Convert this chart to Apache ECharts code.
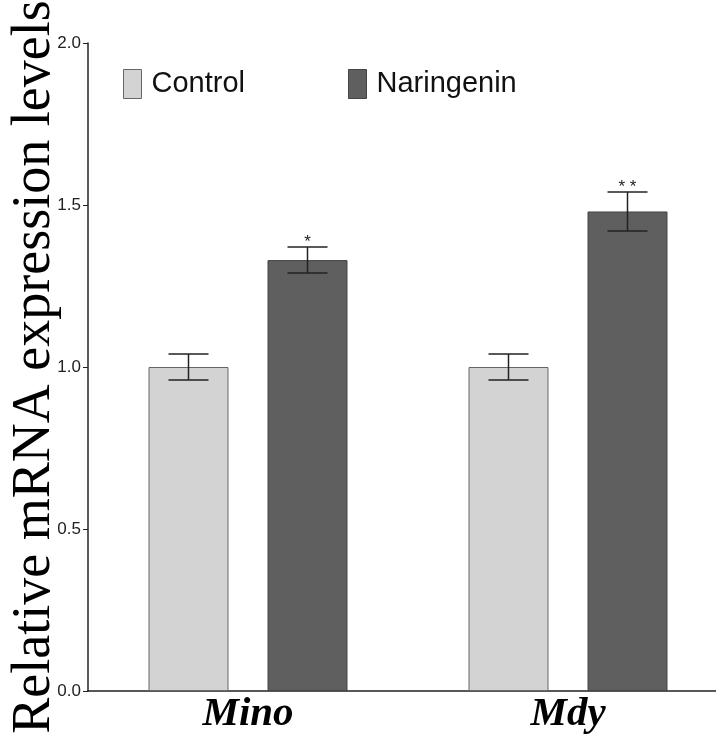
<!DOCTYPE html>
<html>
<head>
<meta charset="utf-8">
<script src="https://cdn.jsdelivr.net/npm/echarts@6/dist/echarts.min.js"></script>
<style>
  html, body { margin: 0; padding: 0; overflow: hidden; background: #fff; }
  #charts { width: 728px; height: 738px; }
</style>
</head>
<body>
<div id="charts"></div>
<script>
const categories = ["Mino", "Mdy"];
const controlMean = [1.0, 1.0];
const controlErr = [0.04, 0.04];
const naringeninMean = [1.33, 1.48];
const naringeninErr = [0.04, 0.06];
const naringeninSig = ["*", "**"];

let chartDom = document.getElementById("charts");
let myChart = echarts.init(chartDom);
let colors = ["#d3d3d3", "#5f5f5f"];
let barWidth = 80;
let barGapPx = 39;

// error bars drawn over the bars, shifted to each bar's centre
function errorSeries(means, errs, sigs, side) {
  return {
    type: "custom",
    name: "err" + side,
    z: 5,
    silent: true,
    data: means.map((m, i) => [i, m, errs[i], sigs ? sigs[i] : ""]),
    renderItem: function (params, api) {
      let c = api.value(0);
      let hi = api.coord([c, api.value(1) + api.value(2)]);
      let lo = api.coord([c, api.value(1) - api.value(2)]);
      let x = hi[0] + side * (barWidth + barGapPx) / 2;
      let cap = 20;
      let style = { stroke: "#222", lineWidth: 1.5 };
      let children = [
        { type: "line", shape: { x1: x, y1: hi[1], x2: x, y2: lo[1] }, style: style },
        { type: "line", shape: { x1: x - cap, y1: hi[1], x2: x + cap, y2: hi[1] }, style: style },
        { type: "line", shape: { x1: x - cap, y1: lo[1], x2: x + cap, y2: lo[1] }, style: style },
      ];
      let sig = api.value(3);
      if (sig) {
        children.push({
          type: "text",
          style: {
            text: sig.split("").join(" "),
            x: x,
            y: hi[1] + 4,
            align: "center",
            verticalAlign: "bottom",
            fontSize: 17,
            fontFamily: "Liberation Sans",
            fill: "#222",
          },
        });
      }
      return { type: "group", children: children };
    },
  };
}

let option = {
  animation: false,
  backgroundColor: "#fff",
  legend: {
    left: 118,
    top: 64,
    icon: "rect",
    itemWidth: 18,
    itemHeight: 29,
    itemGap: 103,
    data: ["Control", "Naringenin"],
    itemStyle: { borderWidth: 1 },
    textStyle: {
      fontSize: 29,
      fontFamily: "Liberation Sans",
      color: "#111",
      padding: [0, 0, 0, 5],
    },
  },
  grid: {
    left: 88,
    right: 0,
    top: 43,
    bottom: 47,
    containLabel: false,
    outerBoundsMode: "none",
  },
  xAxis: {
    type: "category",
    data: categories,
    axisLine: { lineStyle: { color: "#222", width: 1.5 } },
    axisTick: { alignWithLabel: true, length: 5, lineStyle: { color: "#222" } },
    axisLabel: {
      fontSize: 41,
      fontStyle: "italic",
      fontWeight: "bold",
      fontFamily: "Liberation Serif",
      color: "#000",
      margin: 3,
    },
  },
  yAxis: {
    type: "value",
    min: 0,
    max: 2,
    interval: 0.5,
    name: "Relative mRNA expression levels",
    nameLocation: "middle",
    nameGap: 26,
    nameRotate: 90,
    nameMoveOverlap: false,
    nameTextStyle: {
      fontSize: 54,
      fontFamily: "Liberation Serif",
      color: "#000",
    },
    axisLine: { show: true, lineStyle: { color: "#222", width: 1.5 } },
    axisTick: { show: true, length: 5, lineStyle: { color: "#222" } },
    axisLabel: {
      fontSize: 17,
      fontFamily: "Liberation Sans",
      color: "#222",
      margin: 7,
      formatter: (v) => v.toFixed(1),
    },
    splitLine: { show: false },
  },
  series: [
    {
      name: "Control",
      type: "bar",
      barWidth: barWidth,
      barGap: (barGapPx / barWidth) * 100 + "%",
      data: controlMean,
      itemStyle: { color: colors[0], borderColor: "#666", borderWidth: 1 },
    },
    {
      name: "Naringenin",
      type: "bar",
      barWidth: barWidth,
      data: naringeninMean,
      itemStyle: { color: colors[1], borderColor: "#444", borderWidth: 1 },
    },
    errorSeries(controlMean, controlErr, null, -1),
    errorSeries(naringeninMean, naringeninErr, naringeninSig, 1),
  ],
};

option && myChart.setOption(option);
</script>
</body>
</html>
